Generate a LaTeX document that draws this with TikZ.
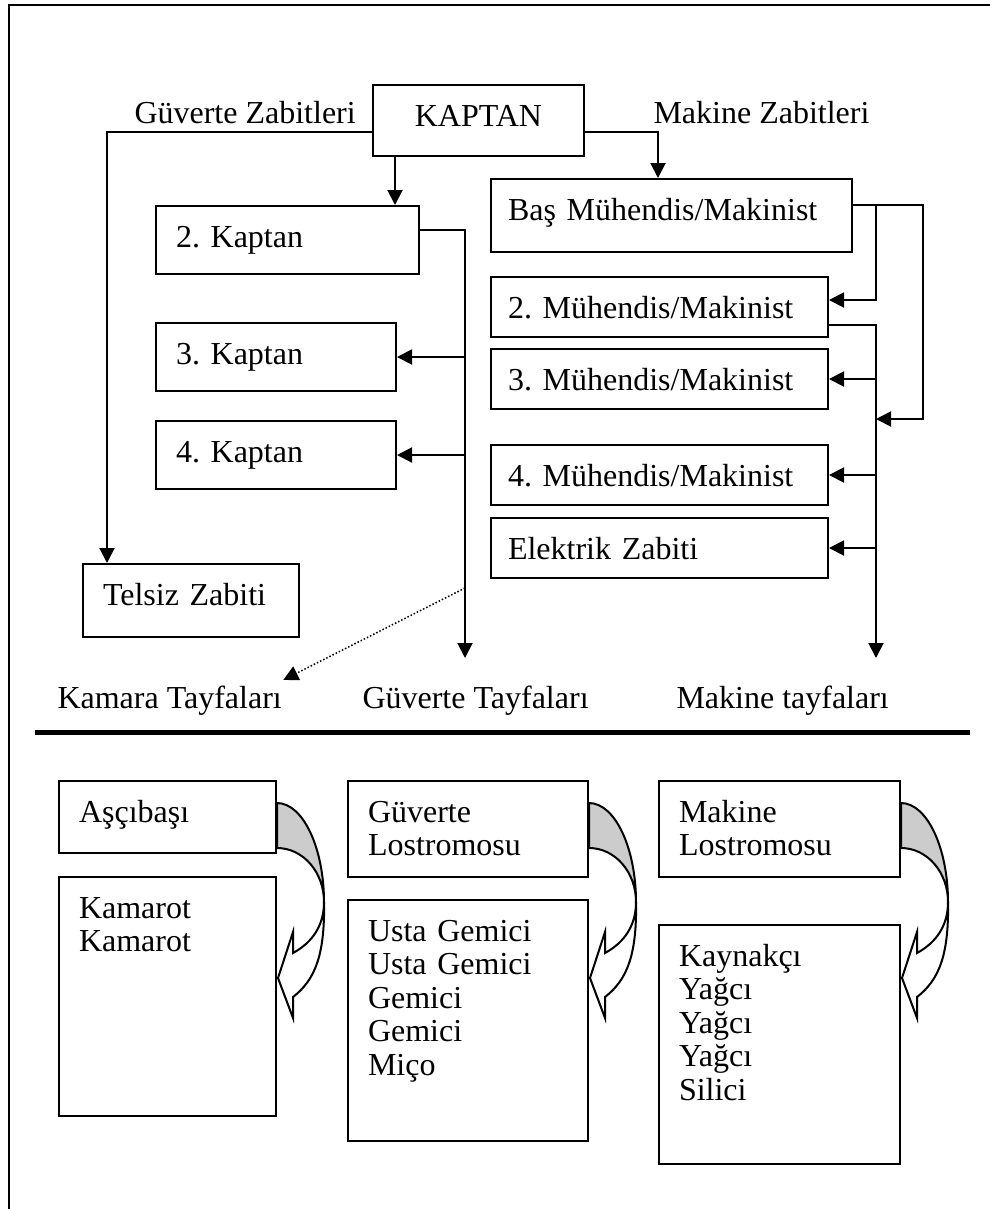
\documentclass[tikz,border=0pt]{standalone}
\usepackage{fontspec}
\setmainfont{Liberation Serif}
\usetikzlibrary{arrows.meta}
\frenchspacing

\begin{document}
\begin{tikzpicture}[x=0.4pt,y=-0.4pt,font=\fontsize{12.8}{13.4}\selectfont]
\newcommand{\kivrikok}[1]{%
\begin{scope}[shift={(#1)},line width=0.8pt]
\draw[fill=gray!40] (0,23) .. controls (26,23) and (47,68) .. (47,122) .. controls (47,92) and (26,68) .. (0,68) -- cycle;
\draw[fill=white] (47,122) .. controls (48,175) and (38,200) .. (16,217) -- (16,238) -- (1,198) -- (16,152) -- (16,173) .. controls (36,162) and (47,145) .. (47,122) -- cycle;
\end{scope}}
\tikzstyle{kutu}=[draw,line width=0.8pt,anchor=north west,align=left,inner xsep=8pt,inner ysep=0pt,text height=16.4pt]
\tikzstyle{ok}=[draw,line width=0.8pt,-{Triangle[length=6pt,width=6pt]}]
\tikzstyle{noktali}=[draw,line width=0.6pt,dash pattern=on 0.6pt off 0.8pt,-{Triangle[length=6pt,width=6pt]}]
\tikzstyle{etiket}=[anchor=base west,inner sep=2pt]
\useasboundingbox (0,0) rectangle (990,1209);
\draw[line width=0.8pt] (990,5) -- (9,5) -- (9,1209);

\node[kutu,align=center,text width=68.4pt,text depth=12pt] (kaptan) at (372,84) {KAPTAN};
\node[kutu,text width=89.2pt,text depth=10.8pt] (kaptan2) at (155,205) {2. Kaptan};
\node[kutu,text width=80pt,text depth=10.8pt] (kaptan3) at (155,322) {3. Kaptan};
\node[kutu,text width=80pt,text depth=10.8pt] (kaptan4) at (155,420) {4. Kaptan};
\node[kutu,text width=70.4pt,text depth=12.8pt] (telsiz) at (82,563) {Telsiz Zabiti};
\node[kutu,inner xsep=6.8pt,text width=130.8pt,text depth=12.8pt] (bas) at (490,178) {Baş Mühendis/Makinist};
\node[kutu,inner xsep=6.8pt,text width=121.2pt,text depth=7.6pt] (muh2) at (490,276) {2. Mühendis/Makinist};
\node[kutu,inner xsep=6.8pt,text width=121.2pt,text depth=7.6pt] (muh3) at (490,348) {3. Mühendis/Makinist};
\node[kutu,inner xsep=6.8pt,text width=121.2pt,text depth=7.6pt] (muh4) at (490,444) {4. Mühendis/Makinist};
\node[kutu,inner xsep=6.8pt,text width=121.2pt,text depth=7.6pt] (elektrik) at (490,517) {Elektrik Zabiti};

\node[etiket] (gzabit) at (129,123) {Güverte Zabitleri};
\node[etiket] (mzabit) at (648,123) {Makine Zabitleri};
\node[etiket] (kamara) at (52,708) {Kamara Tayfaları};
\node[etiket] (gtayfa) at (357,708) {Güverte Tayfaları};
\node[etiket] (mtayfa) at (671,708) {Makine tayfaları};

\draw[line width=2pt] (35,732) -- (970,732);

\node[kutu,text width=70.8pt,text depth=12.4pt] (ascibasi) at (58,780) {Aşçıbaşı};
\node[kutu,text width=70.8pt,text depth=79.2pt] (kamarot) at (58,876) {Kamarot\\Kamarot};
\node[kutu,text width=80pt,text depth=22pt] (glos) at (347,780) {Güverte\\Lostromosu};
\node[kutu,text width=80pt,text depth=80pt] (usta) at (347,899) {Usta Gemici\\Usta Gemici\\Gemici\\Gemici\\Miço};
\node[kutu,text width=80.4pt,text depth=22pt] (mlos) at (658,780) {Makine\\Lostromosu};
\node[kutu,text width=80.4pt,text depth=79.2pt] (kaynakci) at (658,924) {Kaynakçı\\Yağcı\\Yağcı\\Yağcı\\Silici};

\coordinate (gtuc) at (465,658);
\coordinate (mtuc) at (876,658);
\coordinate (sag) at (923,419);
\coordinate (d1) at (465,588);
\coordinate (k1) at ([xshift=9.2pt]kaptan.south west);
\coordinate (b1) at ([yshift=4.2pt]bas.east);

\draw[ok] ([yshift=-4.6pt]kaptan.west) -| ([xshift=10pt]telsiz.north west);
\draw[ok] ([yshift=-4.6pt]kaptan.east) -| ([xshift=67.2pt]bas.north west);
\draw[ok] (k1) -- (k1 |- kaptan2.north);
\draw[ok] ([yshift=4pt]kaptan2.east) -| (gtuc);
\draw[ok] (gtuc |- kaptan3.east) -- (kaptan3.east);
\draw[ok] (gtuc |- kaptan4.east) -- (kaptan4.east);
\draw[noktali] (d1) -- ([xshift=-1.6pt]kamara.north east);
\draw[ok] (b1) -| (sag) -- (sag -| mtuc);
\draw[ok] (b1 -| mtuc) |- ([yshift=2.8pt]muh2.east);
\draw[ok] ([yshift=-7.2pt]muh2.east) -| (mtuc);
\draw[ok] (mtuc |- muh3.east) -- (muh3.east);
\draw[ok] (mtuc |- muh4.east) -- (muh4.east);
\draw[ok] (mtuc |- elektrik.east) -- (elektrik.east);

\kivrikok{ascibasi.north east}
\kivrikok{glos.north east}
\kivrikok{mlos.north east}
\end{tikzpicture}
\end{document}
